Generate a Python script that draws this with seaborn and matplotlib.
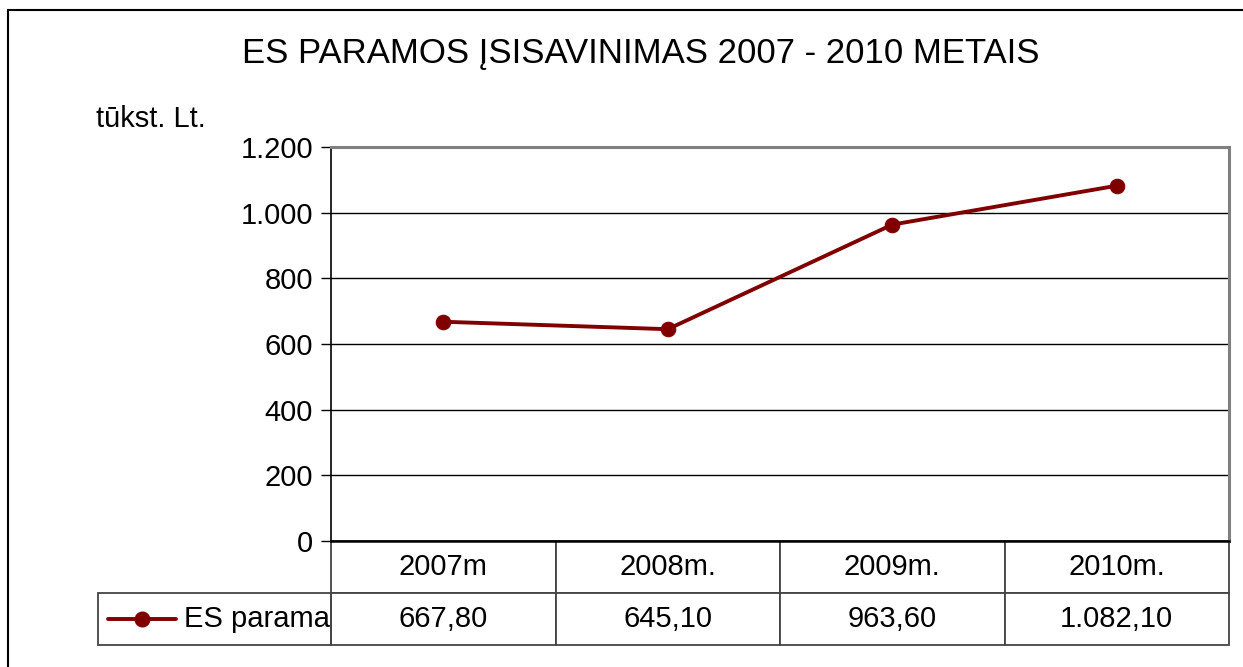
import matplotlib
matplotlib.use("Agg")
import matplotlib.pyplot as plt
import seaborn as sns
import pandas as pd
from matplotlib.patches import Rectangle
from matplotlib.lines import Line2D

years = ["2007m", "2008m.", "2009m.", "2010m."]
values = [667.80, 645.10, 963.60, 1082.10]
value_labels = ["667,80", "645,10", "963,60", "1.082,10"]
series_name = "ES parama"
yticks = [0, 200, 400, 600, 800, 1000, 1200]
ytick_labels = ["0", "200", "400", "600", "800", "1.000", "1.200"]

sns.set_style("white")
plt.rcParams["font.family"] = ["Liberation Sans", "DejaVu Sans"]
plt.rcParams["text.color"] = "black"
plt.rcParams["ytick.color"] = "black"
plt.rcParams["ytick.labelcolor"] = "black"

df = pd.DataFrame({"year": years, "value": values})
line_color = "#800000"
fs = 21

fig = plt.figure(figsize=(12.43, 6.67), dpi=100)
W, H = 1243, 667
ax = fig.add_axes([331 / W, 1 - 541 / H, (1229 - 331) / W, (541 - 147) / H])

sns.lineplot(data=df, x=df.index, y="value", ax=ax, color=line_color,
             linewidth=2.8, marker="o", markersize=10.5, markeredgecolor=line_color)

ax.set_xlim(-0.5, len(years) - 0.5)
ax.set_ylim(0, 1200)
ax.set_yticks(yticks)
ax.set_yticklabels(ytick_labels, fontsize=fs)
ax.set_xticks([])
ax.set_xlabel("")
ax.set_ylabel("")
for y in yticks[1:-1]:
    ax.axhline(y, color="black", linewidth=1, zorder=0)
ax.tick_params(axis="y", length=7, width=1, color="black", direction="out", pad=6, left=True)
ax.spines["left"].set_color("black")
ax.spines["left"].set_linewidth(1.2)
ax.spines["bottom"].set_color("black")
ax.spines["bottom"].set_linewidth(1.8)
ax.spines["top"].set_color("#808080")
ax.spines["top"].set_linewidth(2.2)
ax.spines["right"].set_color("#808080")
ax.spines["right"].set_linewidth(2.2)

# data table under the plot
tab = ax.table(cellText=[years, value_labels], cellLoc="center",
               bbox=[0, -104 / 394, 1, 104 / 394])
tab.auto_set_font_size(False)
tab.set_fontsize(fs)
for (r, c), cell in tab.get_celld().items():
    cell.set_edgecolor("#444444")
    cell.set_linewidth(1.3)
    cell.get_text().set_color("black")

# legend cell to the left of the value row
lx0 = (98 - 331) / 898
ax.add_patch(Rectangle((lx0, -104 / 394), -lx0, 52 / 394, transform=ax.transAxes,
                       fill=False, edgecolor="#444444", linewidth=1.3, clip_on=False))
ly = -78 / 394
ax.add_line(Line2D([(108 - 331) / 898, (176 - 331) / 898], [ly, ly], transform=ax.transAxes,
                   color=line_color, linewidth=2.8, clip_on=False))
ax.add_line(Line2D([(142 - 331) / 898], [ly], transform=ax.transAxes, color=line_color,
                   marker="o", markersize=10.5, clip_on=False))
ax.text((184 - 331) / 898, ly, series_name, transform=ax.transAxes, fontsize=fs,
        ha="left", va="center")

fig.text(641 / W, 1 - 53 / H, "ES PARAMOS ĮSISAVINIMAS 2007 - 2010 METAIS",
         fontsize=25, ha="center", va="center")
fig.text(96 / W, 1 - 119 / H, "tūkst. Lt.", fontsize=fs, ha="left", va="center")

# outer frame
fig.patches.append(Rectangle((8 / W, -0.1), 1.2, 1 - 10 / H + 0.1, transform=fig.transFigure,
                             fill=False, edgecolor="black", linewidth=1.5))

fig.savefig("out.png", dpi=100)
